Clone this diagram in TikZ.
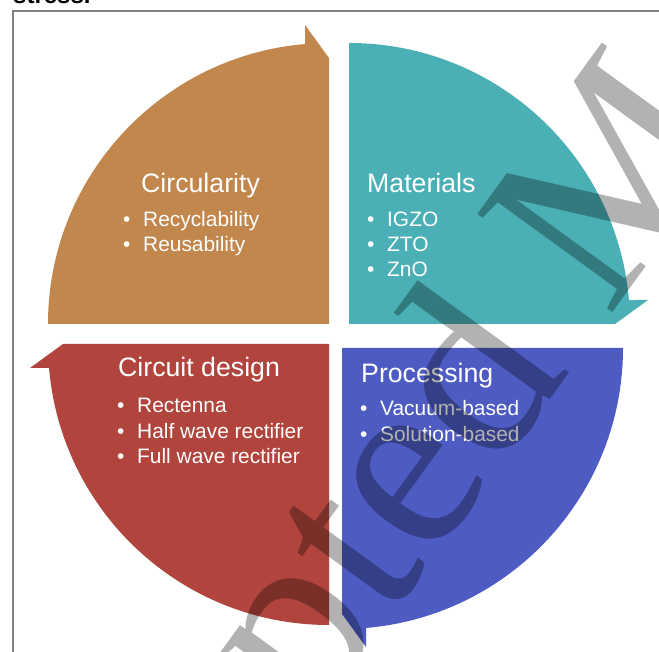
\documentclass[tikz,border=0pt]{standalone}
\usepackage{fontspec}
\setmainfont{Liberation Sans}
\newfontfamily\wmfont{Liberation Serif}
\definecolor{corange}{RGB}{193,135,76}
\definecolor{cteal}{RGB}{74,176,182}
\definecolor{cred}{RGB}{177,68,60}
\definecolor{cblue}{RGB}{77,91,195}
\definecolor{cframe}{RGB}{128,128,128}
\tikzset{
  quadrant/.pic={\path[pic actions] (0,0) -- (-281,0) arc[start angle=180,end angle=94.9,radius=281] -- (-24,299) -- (0,266) -- cycle;},
  title/.style={anchor=base west, inner sep=0pt, text=white, font=\fontsize{26.7}{30}\selectfont},
  item/.style={anchor=base west, inner sep=0pt, text=white, font=\fontsize{20.9}{24}\selectfont},
  wmark/.style={anchor=base west, rotate=54, inner sep=0pt, text=black, text opacity=0.3, font=\wmfont\fontsize{255}{255}\selectfont},
}
\newcommand{\bul}{\llap{\textbullet\hspace{12.7pt}}}
\begin{document}
\begin{tikzpicture}[x=1pt,y=1pt]
\useasboundingbox (0,0) rectangle (659,-652);
\clip (0,0) rectangle (659,-652);
\fill[white] (0,0) rectangle (659,-652);
\node[anchor=base west, inner sep=0pt, font=\bfseries\fontsize{24}{24}\selectfont] (cap) at (13,-4) {stress.};
\draw[cframe, line width=1.6pt] (13,-11) rectangle (720,-720);
\pic[fill=corange] at (329,-324) {quadrant};
\pic[fill=cteal, rotate=-90] at (349,-324) {quadrant};
\pic[fill=cred, rotate=90] at (329,-344) {quadrant};
\pic[fill=cblue, rotate=180] at (342,-348) {quadrant};
\node[title] (t1) at (141,-193) {Circularity};
\node[item] (t1a) at (143,-227) {\bul Recyclability};
\node[item] (t1b) at (143,-252) {\bul Reusability};
\node[title] (t2) at (367,-193) {Materials};
\node[item] (t2a) at (387,-227) {\bul IGZO};
\node[item] (t2b) at (387,-252) {\bul ZTO};
\node[item] (t2c) at (387,-277) {\bul ZnO};
\node[title] (t3) at (118,-377) {Circuit design};
\node[item] (t3a) at (137,-413) {\bul Rectenna};
\node[item] (t3b) at (137,-438) {\bul Half wave rectifier};
\node[item] (t3c) at (137,-463) {\bul Full wave rectifier};
\node[title] (t4) at (361,-383) {Processing};
\node[item] (t4a) at (380,-416) {\bul Vacuum-based};
\node[item] (t4b) at (380,-442) {\bul Solution-based};
\node[wmark] (wm) at (5,-1149) {Accepted Manuscript};
\end{tikzpicture}
\end{document}
